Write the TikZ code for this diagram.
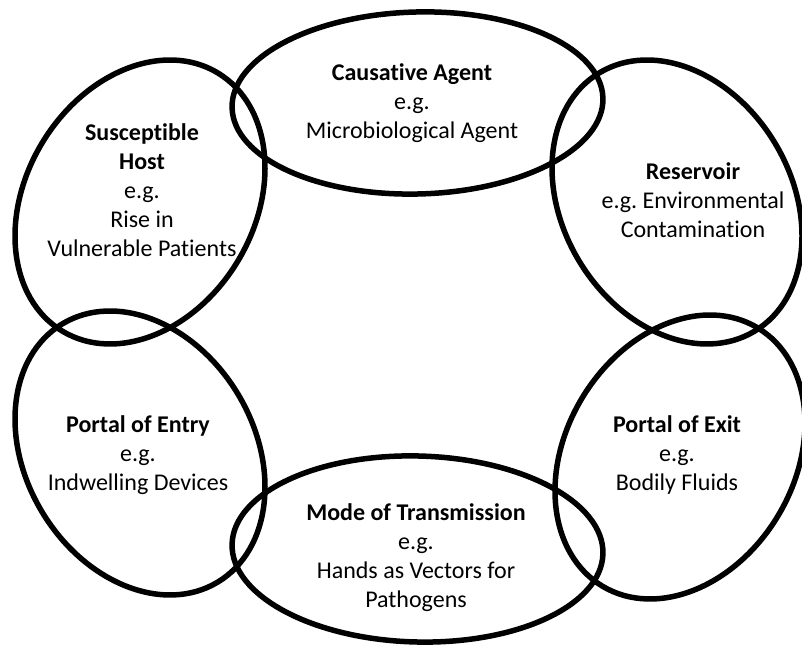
\documentclass[tikz,border=0pt]{standalone}
\usepackage{fontspec}
\setmainfont{Carlito}[Ligatures=NoCommon]
\usetikzlibrary{positioning}
\frenchspacing

\begin{document}
\begin{tikzpicture}[x=0.5pt, y=0.5pt,
    ring/.style={draw, line width=2.75pt},
    caption/.style={align=center, inner sep=0pt,
      font=\fontsize{12}{14.5}\selectfont}]
    \useasboundingbox (0,0) rectangle (802,646);

    % the labels of the six links
    \node[caption] (cause) at (412, 543)
      {\textbf{Causative Agent}\\e.g.\\Microbiological Agent};
    \node[caption] (host) at (142, 456)
      {\textbf{Susceptible}\\\textbf{Host}\\e.g.\\Rise in\\Vulnerable Patients};
    \node[caption] (reservoir) at (693, 446)
      {\textbf{Reservoir}\\e.g. Environmental\\Contamination};
    \node[caption] (entry) at (138, 191)
      {\textbf{Portal of Entry}\\e.g.\\Indwelling Devices};
    \node[caption] (exit) at (677, 191)
      {\textbf{Portal of Exit}\\e.g.\\Bodily Fluids};
    \node[caption] (mode) at (416, 88)
      {\textbf{Mode of Transmission}\\e.g.\\Hands as Vectors for\\Pathogens};

    % the ellipses round them
    \draw[ring, rotate around={1.5:(417.5,543)}] (417.5,543)
      ellipse [x radius=185.5, y radius=91];
    \draw[ring, rotate around={-1.5:(417.5,97)}] (417.5,97)
      ellipse [x radius=185.5, y radius=93];
    \foreach \cx/\cy/\tilt in {140/444/59, 677/444/-59, 140/193/-59, 680/189/59}
      \draw[ring, rotate around={\tilt:(\cx,\cy)}] (\cx,\cy)
        ellipse [x radius=150.7, y radius=114.3];
\end{tikzpicture}
\end{document}
